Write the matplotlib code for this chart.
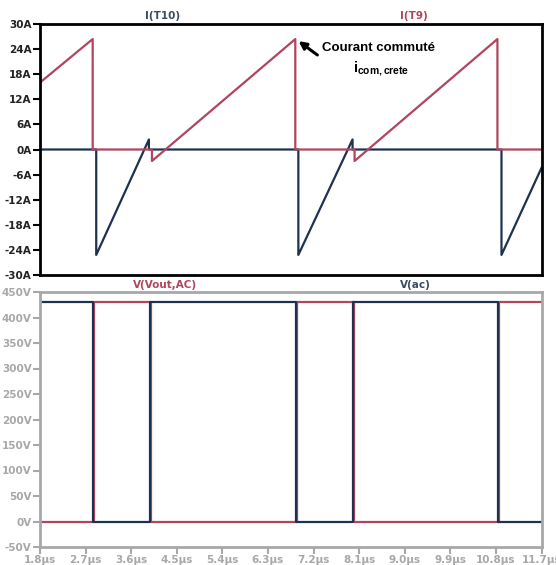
import matplotlib
matplotlib.use("Agg")
import matplotlib.pyplot as plt

# ---- data ----
t_it9 = [1.8, 2.84, 2.84, 4.01, 4.01, 6.84, 6.84, 8.01, 8.01, 10.83, 10.83, 11.7]
i_t9 = [16.0, 26.4, 0.0, 0.0, -2.75, 26.4, 0.0, 0.0, -2.75, 26.4, 0.0, 0.0]

t_it10 = [1.8, 2.91, 2.91, 3.95, 3.95, 6.90, 6.90, 7.97, 7.97, 10.91, 10.91, 11.7]
i_t10 = [0.0, 0.0, -25.2, 2.4, 0.0, 0.0, -25.2, 2.4, 0.0, 0.0, -25.2, -4.4]

t_vout = [1.8, 2.87, 2.87, 3.99, 3.99, 6.87, 6.87, 8.0, 8.0, 10.87, 10.87, 11.7]
v_vout = [0, 0, 430, 430, 0, 0, 430, 430, 0, 0, 430, 430]

t_vac = [1.8, 2.84, 2.84, 3.97, 3.97, 6.85, 6.85, 7.98, 7.98, 10.85, 10.85, 11.7]
v_vac = [430, 430, 0, 0, 430, 430, 0, 0, 430, 430, 0, 0]

i_ticks = [-30, -24, -18, -12, -6, 0, 6, 12, 18, 24, 30]
v_ticks = [-50, 0, 50, 100, 150, 200, 250, 300, 350, 400, 450]
t_ticks = [1.8, 2.7, 3.6, 4.5, 5.4, 6.3, 7.2, 8.1, 9.0, 9.9, 10.8, 11.7]

RED = "#B0455E"
BLUE = "#1E3250"
GRAY = "#A8A8A8"

fig = plt.figure(figsize=(5.56, 5.65), dpi=100)
W, H = 556.0, 565.0
ax1 = fig.add_axes([40 / W, 1 - 275 / H, 501.5 / W, 251 / H])
ax2 = fig.add_axes([40 / W, 1 - 547 / H, 501.5 / W, 255 / H])

# top panel
ax1.plot(t_it10, i_t10, color=BLUE, lw=1.6)
ax1.plot(t_it9, i_t9, color=RED, lw=1.6)
ax1.set_xlim(1.8, 11.7)
ax1.set_ylim(-30, 30)
ax1.set_yticks(i_ticks)
ax1.set_yticklabels([f"{v}A" for v in i_ticks], fontsize=7.5, fontweight="bold", color="#222222")
ax1.set_xticks([])
for s in ax1.spines.values():
    s.set_color("black")
    s.set_linewidth(2.0)
ax1.tick_params(axis="y", direction="out", length=5, width=1.5, color="black", pad=1)

ax1.annotate("", xy=(6.86, 26.3), xytext=(7.32, 22.2),
             arrowprops=dict(arrowstyle="-|>", lw=2.2, color="black", mutation_scale=11))
ax1.text(7.36, 24.3, "Courant commuté", fontsize=9.5, fontweight="bold",
         family=["Liberation Sans", "DejaVu Sans"], va="center", ha="left")
ax1.text(7.97, 19.4, r"i$_{\mathregular{com,crete}}$", fontsize=10.5, fontweight="bold",
         family=["Liberation Sans", "DejaVu Sans"], va="center", ha="left")

# bottom panel
ax2.plot(t_vout, v_vout, color=RED, lw=1.6)
ax2.plot(t_vac, v_vac, color=BLUE, lw=1.6)
ax2.set_xlim(1.8, 11.7)
ax2.set_ylim(-50, 450)
ax2.set_yticks(v_ticks)
ax2.set_yticklabels([f"{v}V" for v in v_ticks], fontsize=7.5, fontweight="bold", color=GRAY)
ax2.set_xticks(t_ticks)
ax2.set_xticklabels([f"{v:.1f}µs" for v in t_ticks], fontsize=7.5, fontweight="bold", color=GRAY)
for s in ax2.spines.values():
    s.set_color(GRAY)
    s.set_linewidth(2.0)
ax2.tick_params(direction="out", length=5, width=1.5, color=GRAY, pad=1)

# trace names
fig.text(163 / W, 1 - 16 / H, "I(T10)", color="#3A4A6A", fontsize=7.5, fontweight="bold", ha="center", va="center")
fig.text(414 / W, 1 - 16 / H, "I(T9)", color=RED, fontsize=7.5, fontweight="bold", ha="center", va="center")
fig.text(165 / W, 1 - 285 / H, "V(Vout,AC)", color=RED, fontsize=7.5, fontweight="bold", ha="center", va="center")
fig.text(415 / W, 1 - 285 / H, "V(ac)", color="#3A4A6A", fontsize=7.5, fontweight="bold", ha="center", va="center")

fig.savefig("out.png", dpi=100)
